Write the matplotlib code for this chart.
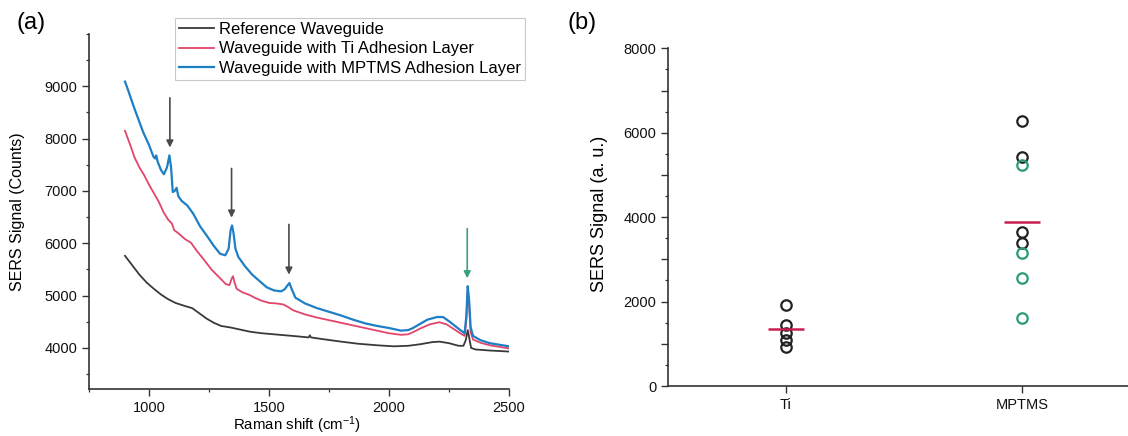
import matplotlib
matplotlib.use("Agg")
import matplotlib.pyplot as plt
from matplotlib.ticker import MultipleLocator, FuncFormatter

plt.rcParams['font.family'] = ['Liberation Sans', 'DejaVu Sans']
plt.rcParams['mathtext.fontset'] = 'custom'
plt.rcParams['mathtext.rm'] = 'Liberation Sans'
plt.rcParams['mathtext.it'] = 'Liberation Sans'

# ---------------- data: panel (a) spectra ----------------
ref_x = [900, 930, 960, 990, 1020, 1050, 1080, 1110, 1150, 1180, 1210, 1240, 1270,
         1300, 1340, 1380, 1420, 1470, 1520, 1570, 1620, 1665, 1670, 1675, 1720,
         1800, 1870, 1950, 2020, 2080, 2130, 2180, 2210, 2250, 2290, 2310, 2320,
         2328, 2334, 2342, 2360, 2420, 2500]
ref_y = [5760, 5580, 5400, 5250, 5130, 5020, 4930, 4860, 4800, 4760, 4660, 4560, 4480,
         4420, 4390, 4350, 4310, 4280, 4260, 4240, 4220, 4200, 4240, 4200, 4170,
         4120, 4080, 4050, 4030, 4040, 4070, 4110, 4120, 4090, 4040, 4040, 4150,
         4340, 4200, 4000, 3970, 3950, 3930]

ti_x = [900, 920, 940, 960, 980, 1000, 1020, 1040, 1060, 1080, 1095, 1105, 1120,
        1150, 1175, 1200, 1230, 1260, 1290, 1320, 1335, 1345, 1350, 1356, 1365,
        1390, 1420, 1440, 1470, 1500, 1530, 1560, 1580, 1600, 1650, 1700, 1750,
        1800, 1850, 1900, 1950, 2000, 2050, 2080, 2100, 2130, 2170, 2210, 2240,
        2270, 2300, 2315, 2322, 2328, 2334, 2340, 2350, 2380, 2420, 2460, 2500]
ti_y = [8150, 7900, 7640, 7450, 7300, 7120, 6960, 6800, 6600, 6450, 6380, 6250, 6200,
        6080, 6010, 5850, 5680, 5500, 5360, 5220, 5200, 5330, 5370, 5260, 5130,
        5060, 5010, 4960, 4900, 4860, 4850, 4830, 4780, 4720, 4640, 4580, 4530,
        4480, 4430, 4380, 4330, 4280, 4250, 4260, 4300, 4370, 4450, 4490, 4450,
        4360, 4270, 4230, 4500, 5100, 4800, 4300, 4160, 4100, 4050, 4020, 3990]

mptms_x = [900, 915, 935, 955, 976, 1000, 1018, 1025, 1030, 1036, 1050, 1062, 1075,
           1085, 1092, 1099, 1107, 1115, 1122, 1136, 1160, 1185, 1212, 1240, 1270,
           1296, 1318, 1332, 1340, 1346, 1352, 1360, 1372, 1400, 1430, 1460, 1490,
           1520, 1550, 1565, 1578, 1585, 1595, 1610, 1650, 1700, 1750, 1800, 1850,
           1900, 1950, 2000, 2050, 2080, 2100, 2130, 2160, 2200, 2225, 2250, 2275,
           2300, 2315, 2322, 2328, 2334, 2340, 2350, 2380, 2420, 2460, 2500]
mptms_y = [9090, 8900, 8630, 8380, 8120, 7880, 7660, 7620, 7680, 7560, 7400, 7320, 7450,
           7680, 7450, 6980, 7000, 7060, 6900, 6810, 6720, 6560, 6330, 6150, 5950,
           5800, 5770, 5900, 6250, 6340, 6200, 5900, 5740, 5560, 5400, 5280, 5160,
           5100, 5080, 5120, 5200, 5240, 5120, 4960, 4850, 4760, 4690, 4620, 4540,
           4470, 4420, 4380, 4330, 4340, 4380, 4460, 4540, 4590, 4590, 4510, 4420,
           4330, 4280, 4600, 5180, 4900, 4400, 4230, 4150, 4090, 4060, 4030]

series_labels = ["Reference Waveguide", "Waveguide with Ti Adhesion Layer",
                 "Waveguide with MPTMS Adhesion Layer"]

# arrows marking peaks (x, top, tip)
arrow_x = [1087, 1344, 1583, 2326]
arrow_top = [8780, 7430, 6360, 6280]
arrow_tip = [7830, 6490, 5400, 5330]
arrow_colors = ['#4a4a4a', '#4a4a4a', '#4a4a4a', '#3aa17a']

# ---------------- data: panel (b) ----------------
categories = ["Ti", "MPTMS"]
ti_black = [1927, 1445, 1249, 1090, 931]
mptms_black = [6280, 5419, 3641, 3381]
mptms_green = [5237, 3144, 2566, 1604]
mean_values = [1343, 3893]

# ---------------- figure ----------------
W, H = 1128, 436
fig = plt.figure(figsize=(W / 100, H / 100), dpi=100)

axc = '#333333'
tick_fs = 10.5

# panel (a)
axa = fig.add_axes([89 / W, 1 - 388.7 / H, 420 / W, 354.7 / H])
l1, = axa.plot(ref_x, ref_y, color='#3a3a3a', lw=1.3)
l2, = axa.plot(ti_x, ti_y, color='#e2456a', lw=1.3)
l3, = axa.plot(mptms_x, mptms_y, color='#1f7fc4', lw=1.6)
for xa, yt, yb, c in zip(arrow_x, arrow_top, arrow_tip, arrow_colors):
    axa.annotate('', xy=(xa, yb), xytext=(xa, yt),
                 arrowprops=dict(arrowstyle='-|>', color=c, lw=1.2,
                                 mutation_scale=10, shrinkA=0, shrinkB=0))
axa.set_xlim(750, 2500)
axa.set_ylim(3220, 10000)
axa.xaxis.set_major_locator(MultipleLocator(500))
axa.xaxis.set_minor_locator(MultipleLocator(250))
axa.yaxis.set_major_locator(MultipleLocator(1000))
axa.yaxis.set_minor_locator(MultipleLocator(500))
axa.set_yticks([4000, 5000, 6000, 7000, 8000, 9000])
axa.set_xlabel(r'Raman shift (cm$^{-1}$)', fontsize=10.8)
axa.xaxis.label.set_va('bottom')
axa.set_ylabel('SERS Signal (Counts)', fontsize=11.5)
axa.xaxis.set_label_coords(0.495, -0.133)
axa.yaxis.set_label_coords(-0.152, 0.5)
leg = axa.legend([l1, l2, l3], series_labels, loc='upper left',
                 bbox_to_anchor=(0.205, 1.045), fontsize=12, frameon=True,
                 handlelength=2.1, handletextpad=0.3, labelspacing=0.25,
                 borderpad=0.25, borderaxespad=0, fancybox=False)
leg.get_frame().set_edgecolor('#bbbbbb')
leg.get_frame().set_linewidth(0.8)
leg.set_zorder(5)

# panel (b)
axb = fig.add_axes([668 / W, 1 - 386 / H, 472 / W, 337.7 / H])
xpos = [1, 2]
axb.plot([xpos[0]] * len(ti_black), ti_black, 'o', mfc='none', mec='#222222',
         ms=7.5, mew=1.6)
axb.plot([xpos[1]] * len(mptms_black), mptms_black, 'o', mfc='none', mec='#222222',
         ms=7.5, mew=1.6)
axb.plot([xpos[1]] * len(mptms_green), mptms_green, 'o', mfc='none', mec='#2a9a78',
         ms=7.5, mew=1.6)
axb.hlines(mean_values, [p - 0.075 for p in xpos], [p + 0.075 for p in xpos],
           color='#c8204e', lw=1.8, zorder=4)
axb.set_xlim(0.5, 2.5)
axb.set_ylim(0, 8000)
axb.set_xticks(xpos)
axb.set_xticklabels(categories)
axb.yaxis.set_major_locator(MultipleLocator(1000))
axb.yaxis.set_minor_locator(MultipleLocator(500))
axb.yaxis.set_major_formatter(FuncFormatter(lambda v, p: f'{int(v)}' if int(v) % 2000 == 0 else ''))
axb.set_ylabel('SERS Signal (a. u.)', fontsize=13)
axb.yaxis.set_label_coords(-0.128, 0.51)

for ax in (axa, axb):
    for s in ('top', 'right'):
        ax.spines[s].set_visible(False)
    for s in ('left', 'bottom'):
        ax.spines[s].set_color(axc)
        ax.spines[s].set_linewidth(1.2)
    ax.tick_params(which='major', direction='out', length=5, width=1.0,
                   colors=axc, labelsize=tick_fs, labelcolor='#111111')
    ax.tick_params(which='minor', direction='out', length=2.5, width=0.9, colors=axc)
axb.tick_params(axis='x', which='minor', bottom=False)

fig.text(31 / W, 1 - 23 / H, '(a)', fontsize=17, ha='center', va='center')
fig.text(582 / W, 1 - 23 / H, '(b)', fontsize=17, ha='center', va='center')

fig.savefig('out.png', dpi=100, facecolor='white')
